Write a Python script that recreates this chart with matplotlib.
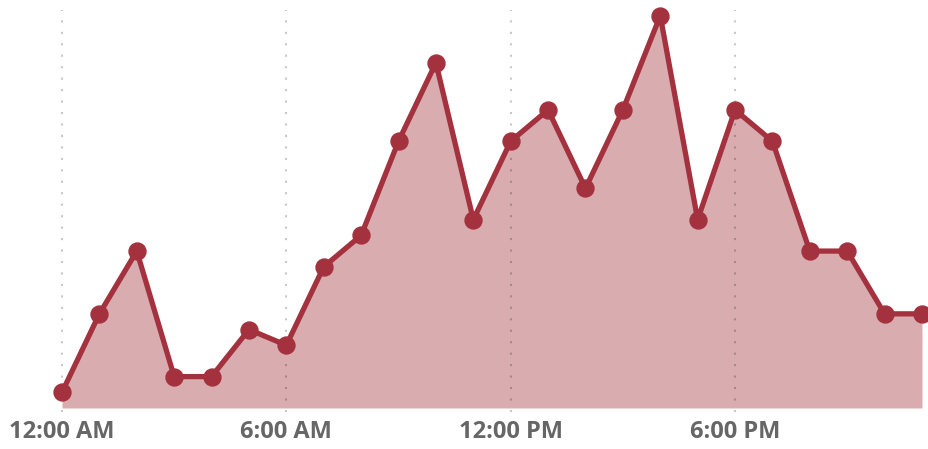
import numpy as np
import matplotlib.pyplot as plt

# hourly counts, 12 AM .. 11 PM
hours = np.arange(24)
values = [1, 6, 10, 2, 2, 5, 4, 9, 11, 17, 22, 12,
          17, 19, 14, 19, 25, 12, 19, 17, 10, 10, 6, 6]
tick_hours = [0, 6, 12, 18]
tick_labels = ["12:00 AM", "6:00 AM", "12:00 PM", "6:00 PM"]

line_color = "#A3323E"
fill_color = "#D9ACB0"

fig = plt.figure(figsize=(9.29, 4.49), dpi=100)
ax = fig.add_axes([62 / 929, 41 / 449, 860 / 929, 408 / 449])

ax.fill_between(hours, values, 0, color=fill_color, lw=0, zorder=1)

# dotted vertical grid, drawn over the fill
for h in tick_hours:
    ax.axvline(h, ymin=-0.01, ymax=0.975, color="black", alpha=0.22, lw=1.5,
               ls=(0, (1, 4.5)), zorder=1.5, clip_on=False)

ax.plot(hours, values, color=line_color, lw=3.8, marker="o",
        markersize=12.2, zorder=2, clip_on=False)

ax.set_xlim(0, 23)
ax.set_ylim(0, 26)
ax.set_yticks([])
ax.set_xticks(tick_hours)
ax.set_xticklabels(tick_labels, fontsize=17, fontweight="bold",
                   color="#666666", family="Open Sans")
ax.tick_params(axis="x", length=0, pad=9)
for s in ax.spines.values():
    s.set_visible(False)

fig.savefig("out.png", dpi=100)
